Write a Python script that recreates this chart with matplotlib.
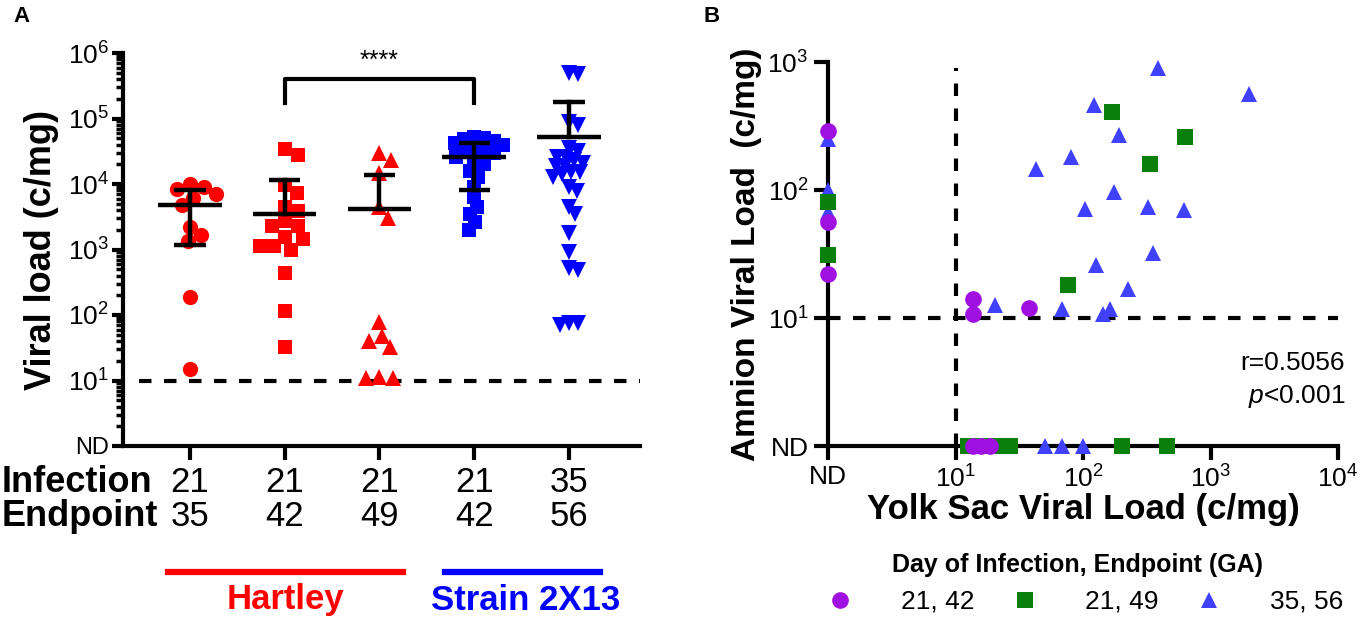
import numpy as np
import matplotlib
matplotlib.use("Agg")
import matplotlib.pyplot as plt
from matplotlib import transforms
from matplotlib.lines import Line2D
from matplotlib.ticker import LogLocator, NullFormatter

plt.rcParams['font.family'] = ['Liberation Sans', 'DejaVu Sans']
plt.rcParams['mathtext.fontset'] = 'custom'
plt.rcParams['mathtext.rm'] = 'Liberation Sans'
plt.rcParams['mathtext.it'] = 'Liberation Sans:italic'

# ---------------- Panel A data ----------------
infection_days = ['21', '21', '21', '21', '35']
endpoint_days = ['35', '42', '49', '42', '56']
group_markers = ['o', 's', '^', 's', 'v']
group_colors = ['#ff0000', '#ff0000', '#ff0000', '#0000ff', '#0000ff']

hartley_35 = [9100, 8500, 10000, 7100, 6200, 4700, 2240, 1660, 1350, 186, 15]
hartley_42 = [34000, 28000, 9500, 7400, 4500, 3900, 2750, 2300, 2300, 1550, 1450,
              1120, 1120, 1000, 440, 115, 33]
hartley_49 = [30000, 23000, 14500, 4400, 3000, 78, 40, 48, 32, 11, 11.5, 11]
strain_42 = [52000, 50000, 48000, 46000, 42000, 40000, 35000, 33000, 32000, 30000,
             26000, 22000, 20000, 16000, 13000, 9000, 6300, 4500, 3500, 2600, 2000]
strain_56 = [490000, 480000, 87000, 79000, 35000, 32000, 26000, 26000, 23000, 21000,
             19000, 19000, 15000, 15000, 14000, 12600, 8900, 7900, 4400, 3500, 1800,
             900, 520, 490, 76, 71, 76]
group_values = [hartley_35, hartley_42, hartley_49, strain_42, strain_56]

group_mean = [4800, 3500, 4200, 26000, 53000]
group_upper = [8100, 11500, 13800, 43000, 178000]
group_lower = [1180, None, None, 8000, None]

detection_limit = 10
sig_pair = (1, 3)
sig_label = '****'

# ---------------- Panel B data ----------------
ND = 1.0
purple_x = [ND, ND, ND, 13.8, 13.8, 38, 13.7, 15.9, 18.5]
purple_y = [290, 56, 22, 14, 10.7, 11.9, ND, ND, ND]
green_x = [ND, ND, 170, 630, 333, 76, 12.5, 16, 21, 27, 202, 452]
green_y = [80, 31, 410, 260, 161, 18, ND, ND, ND, ND, ND, ND]
blue_x = [ND, ND, ND, 390, 123, 192, 80, 43, 174, 103, 324, 620, 355, 126, 225,
          20.4, 69, 164, 144, 2000, 50, 69, 100]
blue_y = [250, 100, 67, 890, 458, 270, 180, 145, 96, 71, 73, 70, 32, 26, 17,
          12.6, 11.7, 11.7, 10.7, 565, ND, ND, ND]
legend_labels = ['21, 42', '21, 49', '35, 56']

W, H = 1361, 620
fig = plt.figure(figsize=(W / 100, H / 100), dpi=100)


def fx(px):
    return px / W


def fy(py):
    return 1 - py / H


def swarm_offsets(ax, x0, values, min_dist):
    # simple beeswarm in pixel space
    pts = ax.transData.transform(np.column_stack([np.full(len(values), x0), values]))
    ypix = pts[:, 1]
    order = np.argsort(-ypix)
    placed = []
    offs = np.zeros(len(values))
    for i in order:
        cands = [0.0]
        for (ox, oy) in placed:
            dy = ypix[i] - oy
            if abs(dy) < min_dist:
                dx = np.sqrt(min_dist ** 2 - dy ** 2)
                cands += [ox + dx, ox - dx]
        cands.sort(key=abs)
        for c in cands:
            if all((c - ox) ** 2 + (ypix[i] - oy) ** 2 >= min_dist ** 2 - 1e-6 for ox, oy in placed):
                offs[i] = c
                placed.append((c, ypix[i]))
                break
    px_per_unit = ax.transData.transform((1, 1))[0] - ax.transData.transform((0, 1))[0]
    return offs / px_per_unit


# ================= Panel A =================
axA = fig.add_axes([fx(123), fy(446), fx(640) - fx(123), fy(53) - fy(446)])
axA.set_yscale('log')
axA.set_ylim(1, 1e6)
axA.set_xlim(-0.707, 4.75)
for s in ['top', 'right']:
    axA.spines[s].set_visible(False)
for s in ['left', 'bottom']:
    axA.spines[s].set_linewidth(3)

# dense groups overlap more in the original
swarm_spacing = [14, 14, 14, 10, 9]

xs = np.arange(len(group_values))
for i, vals in enumerate(group_values):
    offs = swarm_offsets(axA, xs[i], vals, swarm_spacing[i])
    axA.plot(xs[i] + offs, vals, linestyle='none', marker=group_markers[i],
             color=group_colors[i], markersize=11 if group_markers[i] != 's' else 10,
             markeredgewidth=0, zorder=3, clip_on=False)
    # mean and SD
    axA.plot([xs[i] - 0.335, xs[i] + 0.335], [group_mean[i]] * 2, color='black', lw=3.2, zorder=4,
             solid_capstyle='butt')
    lo = group_lower[i] if group_lower[i] is not None else group_mean[i]
    axA.plot([xs[i], xs[i]], [lo, group_upper[i]], color='black', lw=3.2, zorder=4)
    axA.plot([xs[i] - 0.165, xs[i] + 0.165], [group_upper[i]] * 2, color='black', lw=3.2, zorder=4,
             solid_capstyle='butt')
    if group_lower[i] is not None:
        axA.plot([xs[i] - 0.165, xs[i] + 0.165], [group_lower[i]] * 2, color='black', lw=3.2,
                 zorder=4, solid_capstyle='butt')

axA.axhline(detection_limit, xmin=0.03, xmax=1, color='black', lw=3, ls=(0, (3, 3)), zorder=2)

# significance bracket
a, b = sig_pair
axA.plot([a, a, b, b], [1.7e5, 4e5, 4e5, 1.7e5], color='black', lw=3, zorder=4)
axA.text((a + b) / 2, 7.5e5, sig_label, ha='center', va='center', fontsize=18)

axA.set_yticks([1, 10, 100, 1e3, 1e4, 1e5, 1e6])
axA.set_yticklabels(['ND'] + [r'$\mathregular{10^{%d}}$' % k for k in range(1, 7)])
axA.yaxis.set_minor_locator(LogLocator(base=10, subs=np.arange(2, 10), numticks=20))
axA.yaxis.set_minor_formatter(NullFormatter())
axA.tick_params(axis='y', which='major', length=8, width=3, labelsize=19, pad=2)
axA.tick_params(axis='y', which='minor', length=5, width=2.5)
axA.get_yticklabels()[0].set_fontsize(17)
axA.set_xticks(xs)
axA.set_xticklabels([])
axA.tick_params(axis='x', length=10, width=3)
axA.set_ylabel('Viral load (c/mg)', fontsize=26, fontweight='bold', labelpad=6)

blend = transforms.blended_transform_factory(axA.transData, fig.transFigure)
fig.text(fx(2), fy(482), 'Infection', fontsize=26, fontweight='bold', va='center', ha='left')
fig.text(fx(2), fy(517), 'Endpoint', fontsize=26, fontweight='bold', va='center', ha='left')
for i in range(len(xs)):
    axA.text(xs[i], fy(482), infection_days[i], transform=blend, fontsize=25, ha='center', va='center')
    axA.text(xs[i], fy(517), endpoint_days[i], transform=blend, fontsize=25, ha='center', va='center')

fig.add_artist(Line2D([-0.23, 2.25], [fy(572), fy(572)], transform=blend, color='#ff0000', lw=4.5))
fig.add_artist(Line2D([2.69, 4.33], [fy(572), fy(572)], transform=blend, color='#0000ff', lw=4.5))
axA.text(1.01, fy(600), 'Hartley', transform=blend, fontsize=25, fontweight='bold',
         color='#ff0000', ha='center', va='center')
axA.text(3.54, fy(600), 'Strain 2X13', transform=blend, fontsize=25, fontweight='bold',
         color='#0000ff', ha='center', va='center')

fig.text(fx(22), fy(17), 'A', fontsize=16, fontweight='bold', ha='center', va='center')

# ================= Panel B =================
axB = fig.add_axes([fx(828), fy(446), fx(1338) - fx(828), fy(62) - fy(446)])
axB.set_xscale('log')
axB.set_yscale('log')
axB.set_xlim(1, 1e4)
axB.set_ylim(1, 1e3)
for s in ['top', 'right']:
    axB.spines[s].set_visible(False)
for s in ['left', 'bottom']:
    axB.spines[s].set_linewidth(3)

axB.axvline(10, ymin=0, ymax=0.984, color='black', lw=3, ls=(0, (3, 3)), zorder=1)
axB.axhline(10, xmin=0, xmax=1, color='black', lw=3, ls=(0, (3, 3)), zorder=1)

hb = axB.plot(blue_x, blue_y, linestyle='none', marker='^', color='#4040ff', markersize=12,
              markeredgewidth=0, clip_on=False, zorder=3)[0]
hg = axB.plot(green_x, green_y, linestyle='none', marker='s', color='#0a800a', markersize=11,
              markeredgewidth=0, clip_on=False, zorder=4)[0]
hp = axB.plot(purple_x, purple_y, linestyle='none', marker='o', color='#a010e0', markersize=12,
              markeredgewidth=0, clip_on=False, zorder=5)[0]

axB.set_xticks([1, 10, 100, 1e3, 1e4])
axB.set_xticklabels(['ND'] + [r'$\mathregular{10^{%d}}$' % k for k in range(1, 5)])
axB.set_yticks([1, 10, 100, 1e3])
axB.set_yticklabels(['ND'] + [r'$\mathregular{10^{%d}}$' % k for k in range(1, 4)])
axB.xaxis.set_minor_locator(plt.NullLocator())
axB.yaxis.set_minor_locator(plt.NullLocator())
axB.tick_params(which='major', length=10, width=3, labelsize=19, pad=4)
axB.set_ylabel('Amnion Viral Load  (c/mg)', fontsize=24, fontweight='bold', labelpad=4)
axB.set_xlabel('Yolk Sac Viral Load (c/mg)', fontsize=25, fontweight='bold', labelpad=0)

fig.text(fx(1345), fy(363), 'r=0.5056', fontsize=19, ha='right', va='center')
fig.text(fx(1345), fy(396), r'$\it{p}$<0.001', fontsize=19, ha='right', va='center')

fig.text(fx(1077), fy(565), 'Day of Infection, Endpoint (GA)', fontsize=18, fontweight='bold',
         ha='center', va='center')
leg = fig.legend([hp, hg, hb], legend_labels, loc='center', bbox_to_anchor=(fx(1085), fy(602)),
                 ncol=3, frameon=False, fontsize=19, handlelength=1.0, handletextpad=1.8,
                 columnspacing=1.4, borderpad=0)

fig.text(fx(712), fy(17), 'B', fontsize=16, fontweight='bold', ha='center', va='center')

fig.savefig('out.png', dpi=100)
